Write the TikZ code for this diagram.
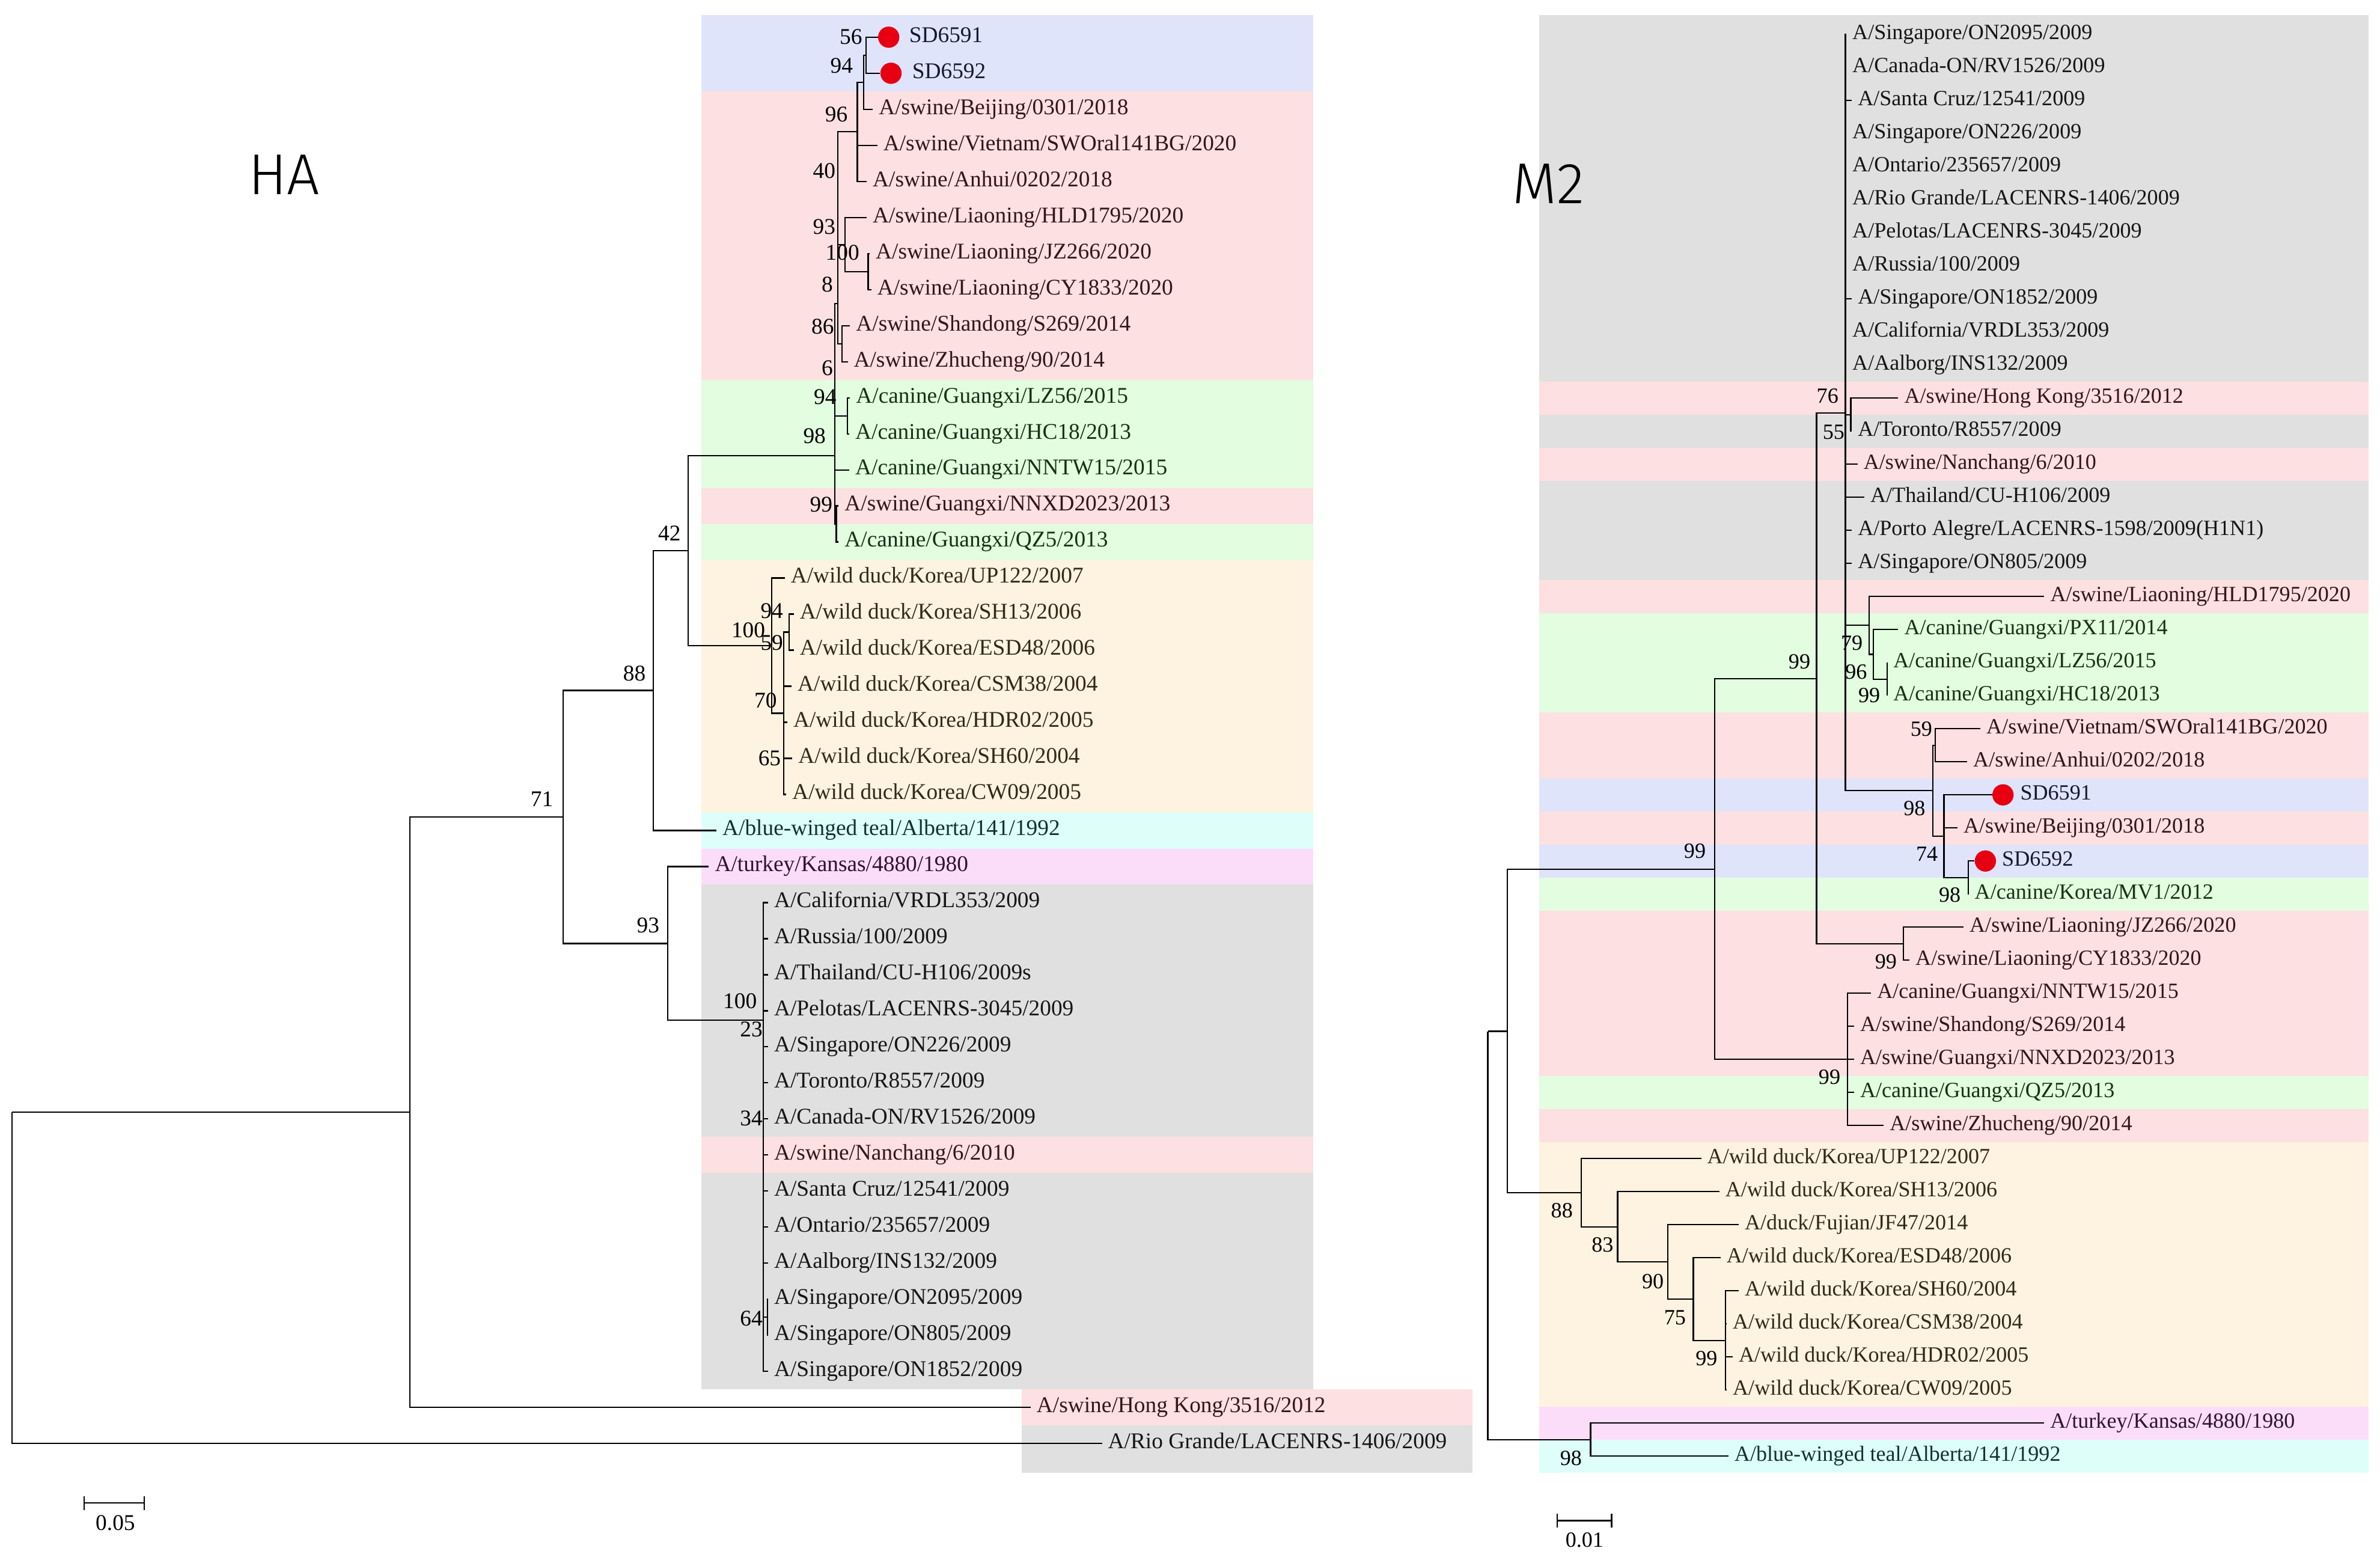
\documentclass[tikz,border=0pt]{standalone}
\usepackage{fontspec}
\setmainfont{Liberation Serif}
\newfontfamily\titlefont{Fira Sans Light}
\newcommand\tipsize{14.8pt}
\newcommand\tipfont{\fontsize{\tipsize}{17pt}\selectfont}
\definecolor{bandBlue}{RGB}{224,228,251}
\definecolor{bandPink}{RGB}{253,224,225}
\definecolor{bandGreen}{RGB}{226,253,224}
\definecolor{bandOrange}{RGB}{254,242,224}
\definecolor{bandCyan}{RGB}{222,254,250}
\definecolor{bandMag}{RGB}{251,221,249}
\definecolor{bandGray}{RGB}{224,224,224}
\definecolor{txPink}{RGB}{55,20,22}
\definecolor{txGreen}{RGB}{20,50,20}
\definecolor{txBlue}{RGB}{22,24,55}
\definecolor{txOrange}{RGB}{52,40,22}
\definecolor{txCyan}{RGB}{18,50,48}
\definecolor{txMag}{RGB}{50,18,48}
\definecolor{txGray}{RGB}{22,22,22}
\definecolor{dotred}{RGB}{230,0,18}
\tikzset{
  br/.style={line width=0.9pt, black},
  tip/.style={anchor=west, inner sep=0pt, outer xsep=4pt, text height=0.66em, text depth=0pt, font=\tipfont},
  tipP/.style={tip, text=txPink},
  tipG/.style={tip, text=txGreen},
  tipB/.style={tip, text=txBlue},
  tipO/.style={tip, text=txOrange},
  tipC/.style={tip, text=txCyan},
  tipM/.style={tip, text=txMag},
  tipY/.style={tip, text=txGray},
  bs/.style={inner sep=0pt, text height=0.66em, text depth=0pt, font=\tipfont},
  dot/.style={circle, fill=dotred, minimum size=14pt, inner sep=0pt},
  ttl/.style={font=\titlefont\fontsize{38pt}{40pt}\selectfont, inner sep=0pt},
}
\begin{document}
\begin{tikzpicture}[x=1pt,y=-1pt]
\useasboundingbox (0,0) rectangle (1568,1027.5);
% ---------------- HA bands ----------------
\fill[bandBlue]   (462,10)    rectangle (865,60.1);
\fill[bandPink]   (462,60.1)  rectangle (865,250.1);
\fill[bandGreen]  (462,250.1) rectangle (865,321.4);
\fill[bandPink]   (462,321.4) rectangle (865,345.1);
\fill[bandGreen]  (462,345.1) rectangle (865,368.9);
\fill[bandOrange] (462,368.9) rectangle (865,535.1);
\fill[bandCyan]   (462,535.1) rectangle (865,558.9);
\fill[bandMag]    (462,558.9) rectangle (865,582.6);
\fill[bandGray]   (462,582.6) rectangle (865,748.9);
\fill[bandPink]   (462,748.9) rectangle (865,772.6);
\fill[bandGray]   (462,772.6) rectangle (865,915.1);
\fill[bandPink]   (673,915.1) rectangle (970,938.9);
\fill[bandGray]   (673,938.9) rectangle (970,970);
% ---------------- M2 bands ----------------
\fill[bandGray]   (1014,10)    rectangle (1560.5,251.3);
\fill[bandPink]   (1014,251.3) rectangle (1560.5,273.1);
\fill[bandGray]   (1014,273.1) rectangle (1560.5,294.9);
\fill[bandPink]   (1014,294.9) rectangle (1560.5,316.6);
\fill[bandGray]   (1014,316.6) rectangle (1560.5,382);
\fill[bandPink]   (1014,382)   rectangle (1560.5,403.7);
\fill[bandGreen]  (1014,403.7) rectangle (1560.5,469.1);
\fill[bandPink]   (1014,469.1) rectangle (1560.5,512.65);
\fill[bandBlue]   (1014,512.65) rectangle (1560.5,534.4);
\fill[bandPink]   (1014,534.4) rectangle (1560.5,556.2);
\fill[bandBlue]   (1014,556.2) rectangle (1560.5,578);
\fill[bandGreen]  (1014,578)   rectangle (1560.5,599.8);
\fill[bandPink]   (1014,599.8) rectangle (1560.5,708.7);
\fill[bandGreen]  (1014,708.7) rectangle (1560.5,730.4);
\fill[bandPink]   (1014,730.4) rectangle (1560.5,752.2);
\fill[bandOrange] (1014,752.2) rectangle (1560.5,926.5);
\fill[bandMag]    (1014,926.5) rectangle (1560.5,948.3);
\fill[bandCyan]   (1014,948.3) rectangle (1560.5,970);

% ---------------- titles ----------------
\node[ttl] (tHA) at (187,115) {HA};
\node[ttl] (tM2) at (1020,121) {M2};

% ================= HA tree =================
\coordinate (r0) at (8,732.55);
\coordinate (n1) at (270,732.55);
\coordinate (n71) at (371,538.1);
\coordinate (n88) at (430.5,454.8);
\coordinate (n42) at (453.4,362.6);
\coordinate (S2) at (550,300);
\coordinate (D) at (552,200);
\coordinate (C) at (564.8,86.85);
\coordinate (B) at (569,54.2);
\coordinate (A) at (570.5,36.4);
\coordinate (E) at (556.8,161.1);
\coordinate (F) at (572,178.9);
\coordinate (G) at (554.8,226.4);
\coordinate (H) at (558.3,273.9);
\coordinate (K) at (551,345.1);
\coordinate (nWD) at (508.5,425.3);
\coordinate (W2) at (516.3,469.8);
\coordinate (W3) at (519.8,416.4);
\coordinate (n93) at (440,621.4);
\coordinate (nPDM) at (503,672);
\coordinate (n64) at (505.5,867.6);

\node[dot] (d1) at (585.5,24.5) {};
\node[tipB] (h1) at (595,24.5) {SD6591};
\node[dot] (d2) at (587,48.25) {};
\node[tipB] (h2) at (597,48.25) {SD6592};
\node[tipP] (h3) at (575,72) {A/swine/Beijing/0301/2018};
\node[tipP] (h4) at (578,95.75) {A/swine/Vietnam/SWOral141BG/2020};
\node[tipP] (h5) at (571,119.5) {A/swine/Anhui/0202/2018};
\node[tipP] (h6) at (571,143.25) {A/swine/Liaoning/HLD1795/2020};
\node[tipP] (h7) at (573,167) {A/swine/Liaoning/JZ266/2020};
\node[tipP] (h8) at (574,190.75) {A/swine/Liaoning/CY1833/2020};
\node[tipP] (h9) at (560,214.5) {A/swine/Shandong/S269/2014};
\node[tipP] (h10) at (558.5,238.25) {A/swine/Zhucheng/90/2014};
\node[tipG] (h11) at (560,262) {A/canine/Guangxi/LZ56/2015};
\node[tipG] (h12) at (559.5,285.75) {A/canine/Guangxi/HC18/2013};
\node[tipG] (h13) at (559.5,309.5) {A/canine/Guangxi/NNTW15/2015};
\node[tipP] (h14) at (552.5,333.25) {A/swine/Guangxi/NNXD2023/2013};
\node[tipG] (h15) at (552.5,357) {A/canine/Guangxi/QZ5/2013};
\node[tipO] (h16) at (517,380.75) {A/wild duck/Korea/UP122/2007};
\node[tipO] (h17) at (523,404.5) {A/wild duck/Korea/SH13/2006};
\node[tipO] (h18) at (523,428.25) {A/wild duck/Korea/ESD48/2006};
\node[tipO] (h19) at (521.5,452) {A/wild duck/Korea/CSM38/2004};
\node[tipO] (h20) at (518.7,475.75) {A/wild duck/Korea/HDR02/2005};
\node[tipO] (h21) at (522,499.5) {A/wild duck/Korea/SH60/2004};
\node[tipO] (h22) at (518,523.25) {A/wild duck/Korea/CW09/2005};
\node[tipC] (h23) at (472,547) {A/blue-winged teal/Alberta/141/1992};
\node[tipM] (h24) at (467,570.75) {A/turkey/Kansas/4880/1980};
\node[tipY] (h25) at (506,594.5) {A/California/VRDL353/2009};
\node[tipY] (h26) at (506,618.25) {A/Russia/100/2009};
\node[tipY] (h27) at (506,642) {A/Thailand/CU-H106/2009s};
\node[tipY] (h28) at (506,665.75) {A/Pelotas/LACENRS-3045/2009};
\node[tipY] (h29) at (506,689.5) {A/Singapore/ON226/2009};
\node[tipY] (h30) at (506,713.25) {A/Toronto/R8557/2009};
\node[tipY] (h31) at (506,737) {A/Canada-ON/RV1526/2009};
\node[tipP] (h32) at (506,760.75) {A/swine/Nanchang/6/2010};
\node[tipY] (h33) at (506,784.5) {A/Santa Cruz/12541/2009};
\node[tipY] (h34) at (506,808.25) {A/Ontario/235657/2009};
\node[tipY] (h35) at (506,832) {A/Aalborg/INS132/2009};
\node[tipY] (h36) at (506,855.75) {A/Singapore/ON2095/2009};
\node[tipY] (h37) at (506,879.5) {A/Singapore/ON805/2009};
\node[tipY] (h38) at (506,903.25) {A/Singapore/ON1852/2009};
\node[tipP] (h39) at (679,927) {A/swine/Hong Kong/3516/2012};
\node[tipY] (h40) at (726,950.75) {A/Rio Grande/LACENRS-1406/2009};

\draw[br] (r0) |- (n1);  \draw[br] (r0) |- (h40.west);
\draw[br] (n1) |- (n71); \draw[br] (n1) |- (h39.west);
\draw[br] (n71) |- (n88); \draw[br] (n71) |- (n93);
\draw[br] (n88) |- (n42); \draw[br] (n88) |- (h23.west);
\draw[br] (n42) |- (S2); \draw[br] (n42) |- (nWD);
\draw[br] (S2) |- (D); \draw[br] (S2) |- (H); \draw[br] (S2) |- (h13.west); \draw[br] (S2) |- (K);
\draw[br] (D) |- (C); \draw[br] (D) |- (E); \draw[br] (D) |- (G);
\draw[br] (C) |- (B); \draw[br] (C) |- (h4.west); \draw[br] (C) |- (h5.west);
\draw[br] (B) |- (A); \draw[br] (B) |- (h3.west);
\draw[br] (A) |- (d1.west); \draw[br] (A) |- (d2.west);
\draw[br] (E) |- (h6.west); \draw[br] (E) |- (F);
\draw[br] (F) |- (h7.west); \draw[br] (F) |- (h8.west);
\draw[br] (G) |- (h9.west); \draw[br] (G) |- (h10.west);
\draw[br] (H) |- (h11.west); \draw[br] (H) |- (h12.west);
\draw[br] (K) |- (h14.west); \draw[br] (K) |- (h15.west);
\draw[br] (nWD) |- (h16.west); \draw[br] (nWD) |- (W2);
\draw[br] (W2) |- (W3);
\foreach \t in {h19,h20,h21,h22} \draw[br] (W2) |- (\t.west);
\draw[br] (W3) |- (h17.west); \draw[br] (W3) |- (h18.west);
\draw[br] (n93) |- (h24.west); \draw[br] (n93) |- (nPDM);
\foreach \t in {h25,h26,h27,h28,h29,h30,h31,h32,h33,h34,h35,h38} \draw[br] (nPDM) |- (\t.west);
\draw[br] (nPDM) |- (n64);
\draw[br] (n64) |- (h36.west); \draw[br] (n64) |- (h37.west);

% HA bootstrap values
\node[bs] (b71) at (357,528) {71};
\node[bs] (b88) at (418,445) {88};
\node[bs] (b42) at (441,353) {42};
\node[bs] (b93) at (427,611) {93};
\node[bs] (bp100) at (487.5,661) {100};
\node[bs] (bp23) at (495,679.5) {23};
\node[bs] (bp34) at (495,738) {34};
\node[bs] (bp64) at (495,870) {64};
\node[bs] (bw100) at (493,416.6) {100};
\node[bs] (bw94) at (508.5,404) {94};
\node[bs] (bw59) at (508.5,425) {59};
\node[bs] (bw70) at (504.4,463) {70};
\node[bs] (bw65) at (507,501) {65};
\node[bs] (bc56) at (560.6,26) {56};
\node[bs] (bc94) at (554.5,45) {94};
\node[bs] (bc96) at (551,77) {96};
\node[bs] (bc40) at (543,114) {40};
\node[bs] (bc93) at (543,151) {93};
\node[bs] (bc100) at (555,168) {100};
\node[bs] (bc8) at (545,189) {8};
\node[bs] (bc86) at (542,216.6) {86};
\node[bs] (bc6) at (545,244) {6};
\node[bs] (bc94b) at (543.6,263) {94};
\node[bs] (bc98) at (536.6,288.7) {98};
\node[bs] (bc99) at (541,334) {99};

% HA scale bar
\draw[br] (55.5,985.5) -- (55.5,994.5) (55.5,990) -- (95,990) (95,985.5) -- (95,994.5);
\node[bs] (sHA) at (76,1004.5) {0.05};

% ================= M2 tree =================
\renewcommand\tipsize{14.3pt}
\coordinate (m0) at (980.2,679.3);
\coordinate (mX) at (993,679.3);
\coordinate (mT) at (1047.9,948.25);
\coordinate (m99) at (1129.7,572.65);
\coordinate (mSC) at (1217.2,697.8);
\coordinate (mN) at (1196.8,447);
\coordinate (mJZ) at (1253.9,621.55);
\coordinate (mP) at (1215.8,272.05);
\coordinate (m76) at (1219.3,273.07);
\coordinate (m79a) at (1231.5,411.92);
\coordinate (m79b) at (1234.2,430.98);
\coordinate (m96) at (1243.4,447.31);
\coordinate (mV) at (1273.3,520.8);
\coordinate (mVA) at (1275,490.87);
\coordinate (m98) at (1280.7,550.77);
\coordinate (m74) at (1296.8,577.99);
\coordinate (mWD1) at (1041.8,785.6);
\coordinate (mWD2) at (1065.7,808.05);
\coordinate (mWD3) at (1098.8,831.2);
\coordinate (mWD4) at (1115.6,855.7);
\coordinate (mWD5) at (1136.7,882.9);

\node[tipY] (m1) at (1216.4,22.6) {A/Singapore/ON2095/2009};
\node[tipY] (m2) at (1216.4,44.38) {A/Canada-ON/RV1526/2009};
\node[tipY] (m3) at (1220,66.16) {A/Santa Cruz/12541/2009};
\node[tipY] (m4) at (1216.4,87.94) {A/Singapore/ON226/2009};
\node[tipY] (m5) at (1216.4,109.72) {A/Ontario/235657/2009};
\node[tipY] (m6) at (1216.4,131.5) {A/Rio Grande/LACENRS-1406/2009};
\node[tipY] (m7) at (1216.4,153.28) {A/Pelotas/LACENRS-3045/2009};
\node[tipY] (m8) at (1216.4,175.06) {A/Russia/100/2009};
\node[tipY] (m9) at (1220,196.84) {A/Singapore/ON1852/2009};
\node[tipY] (m10) at (1216.4,218.62) {A/California/VRDL353/2009};
\node[tipY] (m11) at (1216.4,240.4) {A/Aalborg/INS132/2009};
\node[tipP] (m12) at (1250.6,262.18) {A/swine/Hong Kong/3516/2012};
\node[tipY] (m13) at (1220,283.96) {A/Toronto/R8557/2009};
\node[tipP] (m14) at (1223.8,305.74) {A/swine/Nanchang/6/2010};
\node[tipY] (m15) at (1228.3,327.52) {A/Thailand/CU-H106/2009};
\node[tipY] (m16) at (1220,349.3) {A/Porto Alegre/LACENRS-1598/2009(H1N1)};
\node[tipY] (m17) at (1220,371.08) {A/Singapore/ON805/2009};
\node[tipP] (m18) at (1346.8,392.86) {A/swine/Liaoning/HLD1795/2020};
\node[tipG] (m19) at (1250.6,414.64) {A/canine/Guangxi/PX11/2014};
\node[tipG] (m20) at (1243.4,436.42) {A/canine/Guangxi/LZ56/2015};
\node[tipG] (m21) at (1243.4,458.2) {A/canine/Guangxi/HC18/2013};
\node[tipP] (m22) at (1304.7,479.98) {A/swine/Vietnam/SWOral141BG/2020};
\node[tipP] (m23) at (1296,501.76) {A/swine/Anhui/0202/2018};
\node[dot] (d24) at (1319.6,523.54) {};
\node[tipB] (m24) at (1327,523.54) {SD6591};
\node[tipP] (m25) at (1289.6,545.32) {A/swine/Beijing/0301/2018};
\node[dot] (d26) at (1308,567.1) {};
\node[tipB] (m26) at (1315,567.1) {SD6592};
\node[tipG] (m27) at (1297,588.88) {A/canine/Korea/MV1/2012};
\node[tipP] (m28) at (1293.6,610.66) {A/swine/Liaoning/JZ266/2020};
\node[tipP] (m29) at (1258,632.44) {A/swine/Liaoning/CY1833/2020};
\node[tipP] (m30) at (1232.7,654.22) {A/canine/Guangxi/NNTW15/2015};
\node[tipP] (m31) at (1221.5,676) {A/swine/Shandong/S269/2014};
\node[tipP] (m32) at (1221.5,697.78) {A/swine/Guangxi/NNXD2023/2013};
\node[tipG] (m33) at (1221.5,719.56) {A/canine/Guangxi/QZ5/2013};
\node[tipP] (m34) at (1241,741.34) {A/swine/Zhucheng/90/2014};
\node[tipO] (m35) at (1120.8,763.12) {A/wild duck/Korea/UP122/2007};
\node[tipO] (m36) at (1132.7,784.9) {A/wild duck/Korea/SH13/2006};
\node[tipO] (m37) at (1145.5,806.68) {A/duck/Fujian/JF47/2014};
\node[tipO] (m38) at (1133.5,828.46) {A/wild duck/Korea/ESD48/2006};
\node[tipO] (m39) at (1145.5,850.24) {A/wild duck/Korea/SH60/2004};
\node[tipO] (m40) at (1137.6,872.02) {A/wild duck/Korea/CSM38/2004};
\node[tipO] (m41) at (1141.5,893.8) {A/wild duck/Korea/HDR02/2005};
\node[tipO] (m42) at (1137.6,915.58) {A/wild duck/Korea/CW09/2005};
\node[tipM] (m43) at (1346.7,937.36) {A/turkey/Kansas/4880/1980};
\node[tipC] (m44) at (1138.7,959.14) {A/blue-winged teal/Alberta/141/1992};

\draw[br] (m0) |- (mX); \draw[br] (m0) |- (mT);
\draw[br] (mX) |- (m99); \draw[br] (mX) |- (mWD1);
\draw[br] (m99) |- (mN); \draw[br] (m99) |- (mSC);
\foreach \t in {m30,m31,m32,m33,m34} \draw[br] (mSC) |- (\t.west);
\draw[br] (mN) |- (mP); \draw[br] (mN) |- (mJZ);
\draw[br] (mJZ) |- (m28.west); \draw[br] (mJZ) |- (m29.west);
\foreach \t in {m1,m2,m3,m4,m5,m6,m7,m8,m9,m10,m11,m14,m15,m16,m17} \draw[br] (mP) |- (\t.west);
\draw[br] (mP) |- (m76); \draw[br] (mP) |- (m79a); \draw[br] (mP) |- (mV);
\draw[br] (m76) |- (m12.west); \draw[br] (m76) |- (m13.west);
\draw[br] (m79a) |- (m18.west); \draw[br] (m79a) |- (m79b);
\draw[br] (m79b) |- (m19.west); \draw[br] (m79b) |- (m96);
\draw[br] (m96) |- (m20.west); \draw[br] (m96) |- (m21.west);
\draw[br] (mV) |- (mVA); \draw[br] (mV) |- (m98);
\draw[br] (mVA) |- (m22.west); \draw[br] (mVA) |- (m23.west);
\draw[br] (m98) |- (d24.west); \draw[br] (m98) |- (m25.west); \draw[br] (m98) |- (m74);
\draw[br] (m74) |- (d26.west); \draw[br] (m74) |- (m27.west);
\draw[br] (mWD1) |- (m35.west); \draw[br] (mWD1) |- (mWD2);
\draw[br] (mWD2) |- (m36.west); \draw[br] (mWD2) |- (mWD3);
\draw[br] (mWD3) |- (m37.west); \draw[br] (mWD3) |- (mWD4);
\draw[br] (mWD4) |- (m38.west); \draw[br] (mWD4) |- (mWD5);
\foreach \t in {m39,m40,m41,m42} \draw[br] (mWD5) |- (\t.west);
\draw[br] (mT) |- (m43.west); \draw[br] (mT) |- (m44.west);

% M2 bootstrap values
\node[bs] (c76) at (1204,262) {76};
\node[bs] (c55) at (1208,286) {55};
\node[bs] (c99a) at (1185.5,437.3) {99};
\node[bs] (c79) at (1220,425) {79};
\node[bs] (c96) at (1222.9,444) {96};
\node[bs] (c99b) at (1231.5,459.5) {99};
\node[bs] (c59) at (1265.8,481.5) {59};
\node[bs] (c98a) at (1261.3,533.8) {98};
\node[bs] (c74) at (1269.5,563.8) {74};
\node[bs] (c98b) at (1284.5,591) {98};
\node[bs] (c99c) at (1242.5,634.6) {99};
\node[bs] (c99d) at (1116.6,562) {99};
\node[bs] (c99e) at (1205.3,711) {99};
\node[bs] (c88) at (1029,798.7) {88};
\node[bs] (c83) at (1055.8,821.2) {83};
\node[bs] (c90) at (1088.9,845.3) {90};
\node[bs] (c75) at (1103.5,869.3) {75};
\node[bs] (c99f) at (1124.3,896) {99};
\node[bs] (c98c) at (1035,962) {98};

% M2 scale bar
\draw[br] (1026,997) -- (1026,1006) (1026,1001.6) -- (1061.8,1001.6) (1061.8,997) -- (1061.8,1006);
\node[bs] (sM2) at (1043.9,1015.5) {0.01};
\end{tikzpicture}
\end{document}
